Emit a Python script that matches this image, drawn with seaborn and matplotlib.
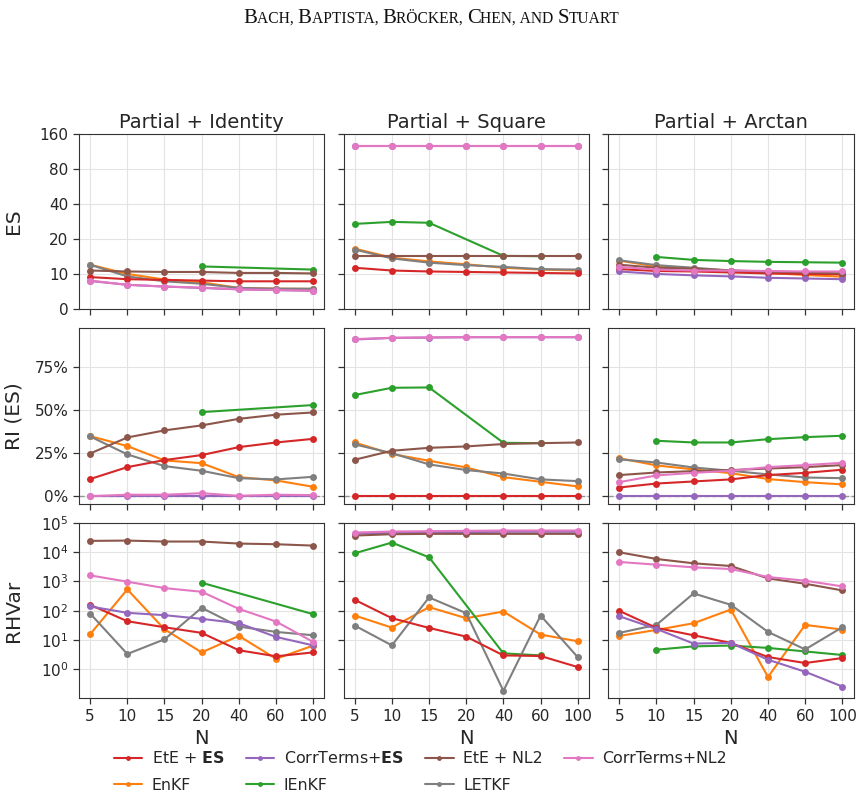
import numpy as np
import pandas as pd
import matplotlib
matplotlib.use("Agg")
import matplotlib.pyplot as plt
import seaborn as sns
from matplotlib.lines import Line2D
from matplotlib.offsetbox import TextArea, HPacker, AnchoredOffsetbox
from matplotlib.ticker import FixedLocator, FixedFormatter, NullLocator, LogLocator, LogFormatterMathtext, PercentFormatter

nan = np.nan

N_LABELS = ["5", "10", "15", "20", "40", "60", "100"]
PANELS = ["Partial + Identity", "Partial + Square", "Partial + Arctan"]
ROW_LABELS = ["ES", "RI (ES)", "RHVar"]
METHODS = ["EnKF", "IEnKF", "LETKF", "EtE + ES", "CorrTerms+ES", "EtE + NL2", "CorrTerms+NL2"]
LEGEND_LABELS = {
    "EtE + ES": r"EtE + $\mathbf{ES}$",
    "CorrTerms+ES": r"CorrTerms+$\mathbf{ES}$",
    "EtE + NL2": "EtE + NL2",
    "CorrTerms+NL2": "CorrTerms+NL2",
    "EnKF": "EnKF",
    "IEnKF": "IEnKF",
    "LETKF": "LETKF",
}
COLORS = {
    "EtE + ES": "#d62728",
    "CorrTerms+ES": "#9467bd",
    "EtE + NL2": "#8c564b",
    "CorrTerms+NL2": "#e377c2",
    "EnKF": "#ff7f0e",
    "IEnKF": "#2ca02c",
    "LETKF": "#7f7f7f",
}
ES_TICKS = [0, 10, 20, 40, 80, 160]

# ---- ES ----
es_identity = {
    "EtE + ES":      [9.1, 8.5, 8.3, 8.1, 7.9, 7.9, 7.9],
    "CorrTerms+ES":  [8.0, 6.9, 6.4, 6.0, 5.6, 5.4, 5.2],
    "EtE + NL2":     [10.7, 10.5, 10.4, 10.4, 10.2, 10.2, 10.1],
    "CorrTerms+NL2": [8.1, 6.9, 6.4, 6.1, 5.6, 5.4, 5.2],
    "EnKF":          [12.0, 10.0, 8.4, 7.6, 6.0, 5.8, 5.7],
    "IEnKF":         [nan, nan, nan, 11.6, nan, nan, 10.9],
    "LETKF":         [12.0, 9.3, 7.9, 7.2, 6.0, 5.8, 5.8],
}
es_square = {
    "EtE + ES":      [11.3, 10.7, 10.5, 10.4, 10.3, 10.2, 10.1],
    "CorrTerms+ES":  [125.0, 125.0, 125.0, 125.0, 125.0, 125.0, 125.0],
    "EtE + NL2":     [14.2, 14.2, 14.2, 14.2, 14.2, 14.2, 14.2],
    "CorrTerms+NL2": [126.0, 126.0, 126.0, 126.0, 126.0, 126.0, 126.0],
    "EnKF":          [16.5, 13.8, 12.8, 12.1, 11.3, 10.9, 10.7],
    "IEnKF":         [26.9, 28.0, 27.5, nan, 14.3, 14.2, nan],
    "LETKF":         [16.2, 13.6, 12.5, 11.9, 11.5, 11.0, 10.9],
}
es_arctan = {
    "EtE + ES":      [11.0, 10.6, 10.5, 10.3, 10.1, 10.0, 9.9],
    "CorrTerms+ES":  [10.5, 10.0, 9.6, 9.3, 8.9, 8.7, 8.5],
    "EtE + NL2":     [12.0, 11.3, 11.1, 10.7, 10.5, 10.3, 10.1],
    "CorrTerms+NL2": [11.5, 10.9, 10.7, 10.7, 10.6, 10.5, 10.5],
    "EnKF":          [13.0, 11.6, 11.1, 10.7, 10.2, 9.7, 9.2],
    "IEnKF":         [nan, 14.0, 13.2, 12.9, 12.7, 12.6, 12.5],
    "LETKF":         [13.1, 11.9, 11.3, 10.7, 10.3, 10.1, 10.0],
}

# ---- RI (ES), in percent ----
ri_identity = {
    "EtE + ES":      [10.1, 17.0, 21.1, 24.0, 28.6, 31.3, 33.4],
    "CorrTerms+ES":  [0.0, 0.0, 0.0, 0.0, 0.0, 0.0, 0.0],
    "EtE + NL2":     [24.9, 34.2, 38.3, 41.2, 45.0, 47.4, 48.7],
    "CorrTerms+NL2": [0.2, 1.0, 1.0, 1.9, 0.4, 1.0, 0.8],
    "EnKF":          [35.0, 29.2, 20.9, 19.3, 11.2, 9.3, 5.6],
    "IEnKF":         [nan, nan, nan, 48.9, nan, nan, 53.0],
    "LETKF":         [34.8, 24.4, 17.6, 14.9, 10.6, 9.9, 11.4],
}
ri_square = {
    "EtE + ES":      [0.0, 0.0, 0.0, 0.0, 0.0, 0.0, 0.0],
    "CorrTerms+ES":  [91.0, 91.9, 92.1, 92.3, 92.3, 92.3, 92.3],
    "EtE + NL2":     [21.3, 26.5, 28.2, 29.0, 30.4, 30.9, 31.3],
    "CorrTerms+NL2": [91.2, 92.0, 92.2, 92.4, 92.4, 92.4, 92.4],
    "EnKF":          [31.3, 24.6, 20.7, 16.8, 11.2, 8.5, 5.8],
    "IEnKF":         [58.8, 63.0, 63.2, nan, 31.1, 30.9, nan],
    "LETKF":         [30.2, 25.1, 18.6, 15.3, 13.3, 9.9, 8.9],
}
ri_arctan = {
    "EtE + ES":      [5.2, 7.5, 8.7, 9.9, 12.4, 13.7, 15.5],
    "CorrTerms+ES":  [0.0, 0.0, 0.0, 0.0, 0.0, 0.0, 0.0],
    "EtE + NL2":     [12.4, 13.9, 14.7, 15.3, 16.2, 17.0, 18.2],
    "CorrTerms+NL2": [8.3, 12.2, 13.7, 14.9, 17.0, 18.2, 19.5],
    "EnKF":          [22.2, 18.0, 15.7, 13.5, 10.1, 8.3, 7.0],
    "IEnKF":         [nan, 32.3, 31.3, 31.3, 33.2, 34.4, 35.2],
    "LETKF":         [21.5, 19.7, 16.8, 14.9, 12.8, 11.0, 10.6],
}

# ---- RHVar ----
rh_identity = {
    "EtE + ES":      [160, 44, 27.4, 17.6, 4.5, 2.8, 3.8],
    "CorrTerms+ES":  [140, 85, 70.7, 53, 37.6, 12.8, 6.6],
    "EtE + NL2":     [24200, 24800, 23000, 23000, 19600, 18600, 16700],
    "CorrTerms+NL2": [1610, 980, 594, 445, 116, 42.9, 8.6],
    "EnKF":          [15.8, 535, 23.4, 3.8, 13.9, 2.3, 6.5],
    "IEnKF":         [nan, nan, nan, 905, nan, nan, 76.5],
    "LETKF":         [80.6, 3.35, 10.6, 126, 28.9, 19.0, 14.6],
}
rh_square = {
    "EtE + ES":      [237, 55.8, 26.0, 13.1, 3.0, 2.86, 1.2],
    "CorrTerms+ES":  [43000, 46000, 47500, 48500, 49500, 49500, 49500],
    "EtE + NL2":     [36800, 40900, 42000, 42000, 42000, 42000, 42000],
    "CorrTerms+NL2": [46700, 50500, 51900, 53200, 54600, 54600, 54600],
    "EnKF":          [68.9, 26.7, 133, 55.8, 94.4, 15.4, 9.1],
    "IEnKF":         [9140, 21200, 6670, nan, 3.53, 3.0, nan],
    "LETKF":         [31.3, 6.6, 285, 82.7, 0.186, 68.9, 2.6],
}
rh_arctan = {
    "EtE + ES":      [99.5, 26.0, 14.6, 8.0, 2.64, 1.65, 2.44],
    "CorrTerms+ES":  [65.3, 24.0, 7.6, 8.0, 2.14, 0.83, 0.26],
    "EtE + NL2":     [9890, 5850, 4160, 3370, 1270, 836, 494],
    "CorrTerms+NL2": [4620, 3740, 3030, 2660, 1420, 1060, 678],
    "EnKF":          [13.9, 22.2, 37.6, 110, 0.55, 33.0, 22.8],
    "IEnKF":         [nan, 4.7, 6.1, 6.5, 5.4, 4.1, 3.1],
    "LETKF":         [17.6, 33.0, 390, 160, 19.0, 4.8, 27.4],
}

GRID_DATA = [
    [es_identity, es_square, es_arctan],
    [ri_identity, ri_square, ri_arctan],
    [rh_identity, rh_square, rh_arctan],
]


def long_frame(table, scale=1.0):
    rows = []
    for m in METHODS:
        for i, v in enumerate(table[m]):
            if not np.isnan(v):
                rows.append({"pos": i, "value": v * scale, "method": m})
    return pd.DataFrame(rows)


sns.set_style("white")
plt.rcParams["font.family"] = ["DejaVu Sans"]
plt.rcParams["axes.edgecolor"] = "#333333"
plt.rcParams["xtick.labelsize"] = 11
plt.rcParams["ytick.labelsize"] = 11
plt.rcParams["xtick.bottom"] = True
plt.rcParams["ytick.left"] = True

fig, axes = plt.subplots(3, 3, figsize=(8.63, 7.96), dpi=100, sharex=True, sharey="row")
fig.subplots_adjust(left=0.0915, right=0.989, top=0.832, bottom=0.123, wspace=0.078, hspace=0.11)

for r in range(3):
    for c in range(3):
        ax = axes[r, c]
        scale = 0.01 if r == 1 else 1.0
        df = long_frame(GRID_DATA[r][c], scale)
        if r == 1:
            ax.axhline(0, color="gray", ls="--", lw=1.0, alpha=0.8, zorder=1)
        sns.lineplot(data=df, x="pos", y="value", hue="method", hue_order=METHODS,
                     palette=COLORS, marker="o", markersize=5, markeredgewidth=0,
                     linewidth=1.5, ax=ax, legend=False, errorbar=None, zorder=3)
        ax.grid(True, color="#e3e3e3", linewidth=0.8, zorder=0)
        ax.set_axisbelow(True)
        ax.set_xlabel("")
        ax.set_ylabel("")
        ax.tick_params(axis="both", direction="out", length=4, width=0.9, color="#333333")
        if r == 0:
            ax.set_title(PANELS[c], fontsize=14, pad=4)
        if r == 2:
            ax.set_xlabel("N", fontsize=14)

for r in range(3):
    ax = axes[r, 0]
    if r == 0:
        ax.set_yscale("symlog", base=2, linthresh=10, linscale=0.5)
        ax.set_ylim(0, 160)
        ax.yaxis.set_major_locator(FixedLocator(ES_TICKS))
        ax.yaxis.set_major_formatter(FixedFormatter([str(t) for t in ES_TICKS]))
        ax.yaxis.set_minor_locator(NullLocator())
    elif r == 1:
        ax.set_ylim(-0.041, 0.975)
        ax.yaxis.set_major_locator(FixedLocator([0, 0.25, 0.5, 0.75]))
        ax.yaxis.set_major_formatter(PercentFormatter(1.0, decimals=0))
    else:
        ax.set_yscale("log")
        ax.set_ylim(0.105, 1e5)
        ax.yaxis.set_major_locator(LogLocator(base=10, numticks=10))
        ax.yaxis.set_major_formatter(LogFormatterMathtext())
        ax.yaxis.set_minor_locator(NullLocator())
    ax.set_ylabel(ROW_LABELS[r], fontsize=14.5)
    ax.yaxis.set_label_coords(-0.228, 0.5)

axes[2, 0].set_xlim(-0.3, 6.3)
axes[2, 0].set_xticks(range(len(N_LABELS)))
axes[2, 0].set_xticklabels(N_LABELS)

# legend (column-major fill -> order so rows read like the reference)
leg_order = ["EtE + ES", "EnKF", "CorrTerms+ES", "IEnKF", "EtE + NL2", "LETKF", "CorrTerms+NL2"]
handles = [Line2D([0], [0], color=COLORS[m], lw=1.5, marker="o", markersize=3.5,
                  markeredgewidth=0) for m in leg_order]
labels = [LEGEND_LABELS[m] for m in leg_order]
fig.legend(handles, labels, loc="lower center", bbox_to_anchor=(0.487, -0.014), ncol=4,
           frameon=False, fontsize=11.4, handlelength=1.8, columnspacing=1.35,
           handletextpad=0.6, labelspacing=0.72)

# running header in small caps
NB = "\u00a0"
BIG, SMALL = 14.9, 11.2
pieces = [("B", BIG), ("ACH," + NB, SMALL), ("B", BIG), ("APTISTA," + NB, SMALL), ("B", BIG),
          ("RÖCKER," + NB, SMALL), ("C", BIG), ("HEN," + NB + "AND" + NB, SMALL), ("S", BIG),
          ("TUART", SMALL)]
areas = [TextArea(t, textprops=dict(fontsize=s, family="Liberation Serif", color="#111111"))
         for t, s in pieces]
box = HPacker(children=areas, align="baseline", pad=0, sep=0)
anch = AnchoredOffsetbox(loc="upper center", child=box, frameon=False, pad=0, borderpad=0,
                         bbox_to_anchor=(0.5, 0.989), bbox_transform=fig.transFigure)
fig.add_artist(anch)

fig.savefig("out.png", dpi=100)
